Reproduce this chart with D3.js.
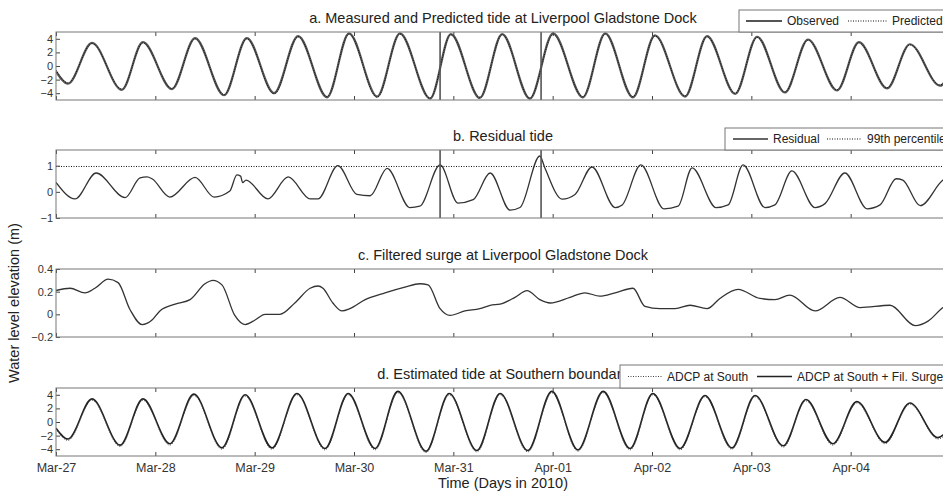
<!DOCTYPE html>
<html>
<head>
<meta charset="utf-8">
<script src="https://cdn.jsdelivr.net/npm/d3@7"></script>
<style>
  body { margin: 0; background: #fff; }
  svg { display: block; font-family: "Liberation Sans", Arial, sans-serif; }
</style>
</head>
<body>
<svg width="943" height="491"></svg>
<script>
// hours after 2010-03-27 00:00 UTC
let tideHours = [0,2.9,8.7,15.9,21.0,28.0,33.6,40.6,46.1,52.7,58.5,65.5,70.8,77.6,83.1,90.4,95.4,102.4,107.8,114.5,120.1,127.3,132.7,139.4,144.7,152.0,157.3,164.1,169.4,176.1,181.7,188.7,194.0,200.8,206.3,213.6,216];
let observed = [-0.8,-2.6,3.4,-3.5,3.5,-3.4,4.1,-4.3,4.1,-4.0,4.4,-4.6,4.8,-4.5,4.8,-4.8,4.7,-4.7,4.7,-4.8,4.8,-4.6,4.8,-4.6,4.5,-4.5,4.4,-4.1,4.3,-3.9,3.9,-3.6,3.5,-3.3,3.2,-2.9,-1.0];
let predicted = [-0.6,-2.5,3.3,-3.4,3.4,-3.3,4.0,-4.2,4.0,-4.1,4.3,-4.5,4.7,-4.6,4.7,-4.7,4.6,-4.6,4.6,-4.7,4.6,-4.5,4.7,-4.5,4.4,-4.4,4.3,-4.0,4.2,-3.8,3.8,-3.5,3.4,-3.2,3.1,-2.8,-0.9];

let residHours = [0,4.6,9.7,16.7,20.3,22.0,23.2,27.5,33.6,38.2,42.0,43.7,44.6,45.1,45.9,51.2,56.1,61.4,63.3,68.1,72.7,75.9,80.0,85.5,87.9,92.8,97.1,100.8,104.9,109.7,112.1,116.9,118.1,122.3,125.4,129.5,135.1,136.8,141.3,146.9,150.3,153.7,159.5,162.4,166.0,171.3,173.7,177.8,183.4,185.8,190.6,196.0,199.1,203.0,204.6,208.8,214.3,216];
let residual = [0.36,-0.27,0.72,-0.22,0.53,0.57,0.5,-0.2,0.55,-0.2,0.03,0.65,0.6,0.35,0.45,-0.27,0.57,-0.27,-0.27,1.0,-0.1,-0.15,0.9,-0.6,-0.55,1.03,-0.43,-0.3,0.72,-0.7,-0.6,1.37,0.92,-0.28,-0.1,0.95,-0.6,-0.5,1.03,-0.65,-0.55,0.92,-0.6,-0.5,1.03,-0.6,-0.5,0.8,-0.6,-0.45,0.72,-0.65,-0.5,0.5,0.45,-0.53,0.45,0.6];
let percentile99 = 0.97;
let eventHours = [92.8, 117.2];

let surgeHours = [0,3.4,7.0,9.4,12.6,15.0,17.9,20.8,23.2,25.1,28.8,32.4,36.0,37.9,40.1,43.2,45.7,48.1,50.5,54.1,57.7,61.4,63.3,64.5,66.9,69.1,71.0,74.7,79.5,84.3,87.9,89.9,92.8,95.2,98.8,102.4,104.9,107.3,110.9,113.8,116.9,119.4,124.2,127.8,131.4,135.1,139.4,142.3,145.9,149.6,153.2,157.3,160.4,164.8,170.1,173.7,177.3,183.4,189.4,194.3,201.5,207.6,210.7,214.3,216];
let surge = [0.21,0.23,0.19,0.23,0.31,0.28,0.04,-0.09,-0.05,0.03,0.09,0.13,0.27,0.30,0.26,-0.01,-0.09,-0.05,0.0,0.0,0.10,0.23,0.25,0.23,0.1,0.03,0.05,0.13,0.19,0.24,0.27,0.26,0.05,-0.01,0.03,0.05,0.08,0.09,0.15,0.21,0.13,0.1,0.15,0.19,0.16,0.19,0.23,0.07,0.05,0.05,0.08,0.05,0.14,0.22,0.14,0.13,0.17,0.03,0.15,0.06,0.08,-0.10,-0.06,0.06,0.1];

let southHours = [0,2.9,8.7,15.5,21.0,27.5,33.3,40.1,45.7,52.2,58.2,65.0,70.6,77.1,82.6,89.4,95.0,101.7,107.3,114.0,119.8,126.1,132.2,138.7,144.2,150.8,156.8,163.3,168.9,175.7,181.2,187.7,193.5,200.3,206.3,213.1,216];
let adcpSouth = [-1.0,-2.7,3.2,-3.6,3.2,-3.4,3.9,-4.0,3.8,-4.0,4.0,-4.1,4.0,-4.1,4.3,-4.5,4.0,-4.4,4.0,-4.4,4.3,-4.3,4.3,-4.1,4.0,-4.1,3.7,-4.0,3.7,-3.7,3.1,-3.4,2.8,-3.2,2.6,-2.5,-1.0];
let adcpSurge = [-0.9,-2.5,3.4,-3.4,3.4,-3.2,4.1,-3.8,4.0,-3.8,4.2,-3.9,4.2,-3.9,4.5,-4.3,4.2,-4.2,4.2,-4.2,4.5,-4.1,4.5,-3.9,4.2,-3.9,3.9,-3.8,3.9,-3.5,3.3,-3.2,3.0,-3.0,2.8,-2.3,-0.8];

let dayTicks = ['2010-03-27','2010-03-28','2010-03-29','2010-03-30','2010-03-31','2010-04-01','2010-04-02','2010-04-03','2010-04-04','2010-04-05'];
let titles = [
  'a. Measured and Predicted tide at Liverpool Gladstone Dock',
  'b. Residual tide',
  'c. Filtered surge at Liverpool Gladstone Dock',
  'd. Estimated tide at Southern boundary'
];

let svg = d3.select('svg');
let t0 = Date.UTC(2010, 2, 27);
let toDate = function(h) { return new Date(t0 + h * 36e5); };
let parseDay = d3.utcParse('%Y-%m-%d');
let lastDay = parseDay('2010-04-05');

let x = d3.scaleUtc().domain([toDate(0), toDate(216)]).range([56, 950]);

let panels = [
  {top: 32, bottom: 100, domain: [-5, 5], ticks: [-4, -2, 0, 2, 4], fmt: d3.format('d')},
  {top: 150, bottom: 218, domain: [-1, 1.6], ticks: [-1, 0, 1], fmt: d3.format('d')},
  {top: 269, bottom: 337, domain: [-0.2, 0.4], ticks: [-0.2, 0, 0.2, 0.4], fmt: function(d) { return d === 0 ? '0' : d3.format('.1f')(d); }},
  {top: 388, bottom: 456, domain: [-5, 5], ticks: [-4, -2, 0, 2, 4], fmt: d3.format('d')}
];

svg.append('defs').selectAll('clipPath').data(panels).enter()
  .append('clipPath').attr('id', function(d, i) { return 'clip' + i; })
  .append('rect').attr('x', 56).attr('width', 894)
  .attr('y', function(d) { return d.top; })
  .attr('height', function(d) { return d.bottom - d.top; });

function series(hours, vals) {
  return hours.map(function(h, i) { return {t: toDate(h), v: vals[i]}; });
}

let dayFmt = d3.utcFormat('%b-%d');

panels.forEach(function(p, i) {
  p.y = d3.scaleLinear().domain(p.domain).range([p.bottom, p.top]);
  p.g = svg.append('g');
  p.plot = p.g.append('g').attr('clip-path', 'url(#clip' + i + ')');
  p.line = d3.line().curve(d3.curveMonotoneX)
    .x(function(d) { return x(d.t); })
    .y(function(d) { return p.y(d.v); });

  // ticks, pointing inward
  let days = dayTicks.map(parseDay);
  let bottomAxis = d3.axisBottom(x).tickValues(days).tickSizeInner(-4).tickSizeOuter(0).tickPadding(7)
    .tickFormat(function(d) { return i === 3 && +d !== +lastDay ? dayFmt(d) : ''; });
  let gb = p.g.append('g').attr('transform', 'translate(0,' + p.bottom + ')').call(bottomAxis);
  gb.select('.domain').remove();
  gb.selectAll('.tick text').attr('font-size', 12.5);
  let gt = p.g.append('g').attr('transform', 'translate(0,' + p.top + ')')
    .call(d3.axisTop(x).tickValues(days).tickSizeInner(-4).tickSizeOuter(0).tickFormat(''));
  gt.select('.domain').remove();
  let gl = p.g.append('g').attr('transform', 'translate(56,0)')
    .call(d3.axisLeft(p.y).tickValues(p.ticks).tickSizeInner(-4).tickSizeOuter(0).tickPadding(3).tickFormat(p.fmt));
  gl.select('.domain').remove();
  gl.selectAll('.tick text').attr('font-size', 11);
  let gr = p.g.append('g').attr('transform', 'translate(950,0)')
    .call(d3.axisRight(p.y).tickValues(p.ticks).tickSizeInner(-4).tickSizeOuter(0).tickFormat(''));
  gr.select('.domain').remove();
  p.g.selectAll('.tick line').attr('stroke', '#444');
  p.g.selectAll('.tick text').attr('fill', '#333')
    .attr('font-family', '"Liberation Sans", Arial, sans-serif');

  p.g.append('rect').attr('x', 56).attr('y', p.top).attr('width', 894).attr('height', p.bottom - p.top)
    .attr('fill', 'none').attr('stroke', '#777').attr('stroke-width', 1);

  p.g.append('text').attr('x', 503).attr('y', p.top - 9).attr('text-anchor', 'middle')
    .attr('font-size', 14.5).attr('fill', '#222').text(titles[i]);
});

// a. measured and predicted
let pa = panels[0];
pa.plot.append('path').datum(series(tideHours, observed))
  .attr('fill', 'none').attr('stroke', '#555').attr('stroke-width', 2.2).attr('d', pa.line);
pa.plot.append('path').datum(series(tideHours, predicted))
  .attr('fill', 'none').attr('stroke', '#111').attr('stroke-width', 1).attr('stroke-dasharray', '1,1.5').attr('d', pa.line);

// b. residual
let pb = panels[1];
pb.plot.append('line').attr('x1', 56).attr('x2', 950)
  .attr('y1', pb.y(percentile99)).attr('y2', pb.y(percentile99))
  .attr('stroke', '#111').attr('stroke-width', 1).attr('stroke-dasharray', '1,1.5');
pb.plot.append('path').datum(series(residHours, residual))
  .attr('fill', 'none').attr('stroke', '#333').attr('stroke-width', 1.3).attr('d', pb.line);

// event markers
[pa, pb].forEach(function(p) {
  p.plot.selectAll('.event').data(eventHours).enter().append('line')
    .attr('x1', function(d) { return x(toDate(d)); })
    .attr('x2', function(d) { return x(toDate(d)); })
    .attr('y1', p.top).attr('y2', p.bottom)
    .attr('stroke', '#555').attr('stroke-width', 1.6);
});

// c. filtered surge
let pc = panels[2];
pc.plot.append('path').datum(series(surgeHours, surge))
  .attr('fill', 'none').attr('stroke', '#333').attr('stroke-width', 1.3).attr('d', pc.line);

// d. southern boundary
let pd = panels[3];
pd.plot.append('path').datum(series(southHours, adcpSurge))
  .attr('fill', 'none').attr('stroke', '#222').attr('stroke-width', 1.6).attr('d', pd.line);
pd.plot.append('path').datum(series(southHours, adcpSouth))
  .attr('fill', 'none').attr('stroke', '#444').attr('stroke-width', 1).attr('stroke-dasharray', '1,1.5').attr('d', pd.line);

// legends
function legend(x0, y0, h, items) {
  let g = svg.append('g');
  g.append('rect').attr('x', x0).attr('y', y0).attr('width', 960 - x0).attr('height', h)
    .attr('fill', '#fff').attr('stroke', '#777');
  items.forEach(function(it) {
    g.append('line').attr('x1', it.x1).attr('x2', it.x2).attr('y1', y0 + h / 2).attr('y2', y0 + h / 2)
      .attr('stroke', it.color).attr('stroke-width', it.width).attr('stroke-dasharray', it.dash);
    g.append('text').attr('x', it.x2 + 5).attr('y', y0 + h / 2 + 4).attr('font-size', 12)
      .attr('fill', '#222').text(it.label);
  });
}
legend(739, 10, 22, [
  {x1: 746, x2: 782, color: '#555', width: 2.2, dash: null, label: 'Observed'},
  {x1: 848, x2: 887, color: '#111', width: 1, dash: '1,1.5', label: 'Predicted'}
]);
legend(725, 128, 22, [
  {x1: 733, x2: 768, color: '#333', width: 1.3, dash: null, label: 'Residual'},
  {x1: 827, x2: 862, color: '#111', width: 1, dash: '1,1.5', label: '99th percentile'}
]);
legend(620, 365, 23, [
  {x1: 628, x2: 662, color: '#444', width: 1, dash: '1,1.5', label: 'ADCP at South'},
  {x1: 757, x2: 792, color: '#222', width: 1.6, dash: null, label: 'ADCP at South + Fil. Surge'}
]);

// axis titles
svg.append('text').attr('x', 503).attr('y', 488).attr('text-anchor', 'middle')
  .attr('font-size', 14.5).attr('fill', '#222').text('Time (Days in 2010)');
svg.append('text').attr('transform', 'translate(19,303) rotate(-90)').attr('text-anchor', 'middle')
  .attr('font-size', 14.5).attr('fill', '#222').text('Water level elevation (m)');
</script>
</body>
</html>
